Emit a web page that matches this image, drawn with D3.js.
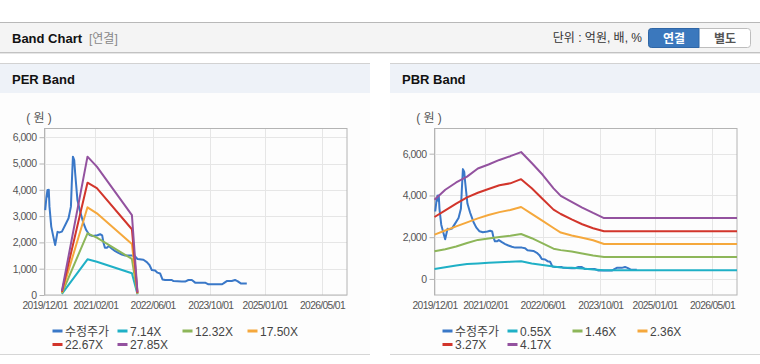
<!DOCTYPE html>
<html>
<head>
<meta charset="utf-8">
<script src="https://cdn.jsdelivr.net/npm/d3@7"></script>
<style>
  body { margin: 0; background: #fff; }
  svg { display: block; font-family: "Liberation Sans", Arial, "Noto Sans CJK KR", sans-serif; }
</style>
</head>
<body>
<svg id="chart" width="760" height="364"></svg>
<script>
// adjusted close (수정주가), shared by both panels
const priceSeries = [
  ["2019-12-07", 3230], ["2019-12-17", 3700], ["2019-12-26", 3990], ["2020-01-01", 3750],
  ["2020-01-06", 4000], ["2020-01-12", 3360], ["2020-01-27", 2600], ["2020-02-12", 2250],
  ["2020-02-29", 1900], ["2020-03-20", 2400], ["2020-04-07", 2380], ["2020-04-26", 2410],
  ["2020-05-24", 2660], ["2020-06-21", 2920], ["2020-07-11", 3360], ["2020-07-18", 4200],
  ["2020-07-28", 5260], ["2020-08-08", 5130], ["2020-08-16", 4630], ["2020-09-04", 3610],
  ["2020-09-27", 3170], ["2020-10-25", 2730], ["2020-11-17", 2470], ["2020-12-15", 2280],
  ["2021-01-12", 2240], ["2021-02-20", 2270], ["2021-03-15", 2310], ["2021-04-01", 2270],
  ["2021-04-12", 1990], ["2021-04-24", 1800], ["2021-05-11", 1800], ["2021-05-27", 1860],
  ["2021-06-22", 1760], ["2021-07-20", 1670], ["2021-08-16", 1600], ["2021-09-14", 1540],
  ["2021-10-12", 1500], ["2021-12-08", 1500], ["2022-01-04", 1470], ["2022-01-24", 1370],
  ["2022-03-15", 1340], ["2022-04-13", 1250], ["2022-05-05", 1140], ["2022-05-25", 950],
  ["2022-06-22", 930], ["2022-07-12", 850], ["2022-08-03", 820], ["2022-08-23", 590],
  ["2022-09-15", 570], ["2022-11-10", 570], ["2022-11-24", 530], ["2023-02-02", 510],
  ["2023-03-02", 510], ["2023-03-30", 570], ["2023-04-28", 570], ["2023-05-26", 470],
  ["2023-08-18", 470], ["2023-09-15", 405], ["2024-01-06", 405], ["2024-01-20", 440],
  ["2024-02-17", 530], ["2024-03-30", 530], ["2024-04-27", 570], ["2024-05-17", 530],
  ["2024-06-14", 440], ["2024-08-04", 440]
];

// PER band
const perDates = ["2020-04-26", "2020-11-28", "2021-02-15", "2021-12-08", "2022-01-24"];
const per714 = [40, 1357, 1266, 825, 25];
const per1232 = [65, 2345, 2180, 1370, 45];
const per1750 = [95, 3335, 3105, 1940, 60];
const per2267 = [120, 4270, 4060, 2500, 80];
const per2785 = [150, 5260, 4880, 3040, 100];
const perLegend = ["수정주가", "7.14X", "12.32X", "17.50X", "22.67X", "27.85X"];
const perTicksY = [0, 1000, 2000, 3000, 4000, 5000, 6000];

// PBR band
const pbrDates = ["2019-12-01", "2020-03-01", "2020-06-01", "2020-09-01", "2020-12-01", "2021-03-01",
  "2021-06-01", "2021-09-01", "2021-12-01", "2022-03-01", "2022-06-01", "2022-09-01",
  "2022-11-01", "2023-02-01", "2023-05-01", "2023-08-01", "2023-11-01", "2026-11-28"];
const pbr055 = [478, 560, 640, 710, 740, 770, 795, 820, 846, 740, 665, 590, 550, 530, 500, 450, 415, 415];
const pbr146 = [1321, 1420, 1550, 1720, 1870, 1940, 2010, 2070, 2150, 1950, 1700, 1450, 1380, 1310, 1220, 1120, 1050, 1050];
const pbr236 = [2120, 2320, 2520, 2710, 2900, 3060, 3200, 3300, 3445, 3120, 2780, 2440, 2220, 2080, 1970, 1850, 1670, 1670];
const pbr327 = [2967, 3280, 3610, 3910, 4130, 4310, 4490, 4580, 4780, 4340, 3830, 3320, 3110, 2850, 2620, 2430, 2280, 2280];
const pbr417 = [3795, 4270, 4620, 4900, 5290, 5480, 5700, 5880, 6077, 5550, 4990, 4340, 3980, 3690, 3420, 3160, 2915, 2915];
const pbrLegend = ["수정주가", "0.55X", "1.46X", "2.36X", "3.27X", "4.17X"];
const pbrTicksY = [0, 2000, 4000, 6000];

const xTickLabels = ["2019/12/01", "2021/02/01", "2022/06/01", "2023/10/01", "2025/01/01", "2026/05/01"];
const xDomain = ["2019-12-01", "2026-11-28"];
const colors = ["#3a78c8", "#1fb0c6", "#8db659", "#f5a83c", "#d2352b", "#93529f"];

const svg = d3.select("#chart");
const parse = d3.timeParse("%Y-%m-%d");
const parseTick = d3.timeParse("%Y/%m/%d");

// top header bar
svg.append("rect").attr("x", 0).attr("y", 22).attr("width", 760).attr("height", 1).attr("fill", "#b8b8b8");
svg.append("rect").attr("x", 0).attr("y", 23).attr("width", 760).attr("height", 29).attr("fill", "#f4f4f4");
svg.append("rect").attr("x", 0).attr("y", 52).attr("width", 760).attr("height", 1).attr("fill", "#c2c2c2");
svg.append("rect").attr("x", 0).attr("y", 53).attr("width", 760).attr("height", 1).attr("fill", "#e6e6e6");
svg.append("text").attr("x", 12).attr("y", 43).attr("font-size", 13).attr("font-weight", "bold")
  .attr("fill", "#111").text("Band Chart");
svg.append("text").attr("x", 89).attr("y", 43).attr("font-size", 12).attr("fill", "#888").text("[연결]");
svg.append("text").attr("x", 642).attr("y", 42).attr("font-size", 12).attr("fill", "#333")
  .attr("text-anchor", "end").text("단위 : 억원, 배, %");

const btn = svg.append("g");
btn.append("rect").attr("x", 648.5).attr("y", 28.5).attr("width", 102).attr("height", 19).attr("rx", 3)
  .attr("fill", "#fff").attr("stroke", "#bdbdbd");
btn.append("path").attr("d", "M699,28.5 H651.5 A3,3 0 0 0 648.5,31.5 V44.5 A3,3 0 0 0 651.5,47.5 H699 Z")
  .attr("fill", "#3b78bd").attr("stroke", "#2f66a6");
btn.append("text").attr("x", 674).attr("y", 42.5).attr("text-anchor", "middle").attr("font-size", 12)
  .attr("font-weight", "bold").attr("fill", "#fff").text("연결");
btn.append("text").attr("x", 725).attr("y", 42.5).attr("text-anchor", "middle").attr("font-size", 12)
  .attr("font-weight", "bold").attr("fill", "#555").text("별도");

function drawPanel(ox, title, yDomain, yTicks, bandDates, bands, legend) {
  const g = svg.append("g").attr("transform", `translate(${ox},0)`);

  g.append("rect").attr("x", 0).attr("y", 63).attr("width", 370).attr("height", 1).attr("fill", "#d2d2d2");
  g.append("rect").attr("x", 0).attr("y", 64).attr("width", 370).attr("height", 29).attr("fill", "#eef2f8");
  g.append("rect").attr("x", 0).attr("y", 93).attr("width", 370).attr("height", 261).attr("fill", "#fdfdfd");
  g.append("rect").attr("x", 0).attr("y", 354).attr("width", 370).attr("height", 1).attr("fill", "#d6d6d6");
  g.append("text").attr("x", 12).attr("y", 84).attr("font-size", 13).attr("font-weight", "bold")
    .attr("fill", "#111").text(title);

  const x = d3.scaleTime().domain(xDomain.map(parse)).range([44.5, 347]);
  const y = d3.scaleLinear().domain(yDomain).range([295, 128]);
  const tickDates = xTickLabels.map(parseTick);

  // grid
  g.append("g").selectAll("line").data(yTicks).join("line")
    .attr("x1", 44.5).attr("x2", 347).attr("y1", d => Math.round(y(d)) + 0.5).attr("y2", d => Math.round(y(d)) + 0.5)
    .attr("stroke", "#e6e6e6");
  g.append("g").selectAll("line").data(tickDates).join("line")
    .attr("x1", d => Math.round(x(d)) + 0.5).attr("x2", d => Math.round(x(d)) + 0.5)
    .attr("y1", 128).attr("y2", 295).attr("stroke", "#e6e6e6");

  // frame
  g.append("rect").attr("x", 44.5).attr("y", 128.5).attr("width", 302.5).attr("height", 166.5)
    .attr("fill", "none").attr("stroke", "#b4b4b4");

  // axes
  const yAxis = g.append("g").attr("transform", "translate(44.5,0)")
    .call(d3.axisLeft(y).tickValues(yTicks).tickSize(5).tickPadding(3).tickFormat(d3.format(",")));
  yAxis.select(".domain").remove();
  yAxis.selectAll("line").attr("stroke", "#b4b4b4");
  yAxis.selectAll("text").attr("font-size", 10.5).attr("letter-spacing", "-0.5px")
    .attr("fill", "#555").attr("font-family", null);

  const xAxis = g.append("g").attr("transform", "translate(0,295)")
    .call(d3.axisBottom(x).tickValues(tickDates).tickSize(0).tickPadding(7)
      .tickFormat((d, i) => xTickLabels[i]));
  xAxis.select(".domain").remove();
  xAxis.selectAll("text").attr("font-size", 10.3).attr("letter-spacing", "-0.65px")
    .attr("fill", "#555").attr("font-family", null);

  g.append("text").attr("x", 39).attr("y", 122).attr("text-anchor", "middle").attr("font-size", 12)
    .attr("fill", "#555").text("( 원 )");

  // series
  const line = d3.line().x(d => x(d[0])).y(d => y(d[1]));
  const plot = g.append("g");
  plot.append("path").datum(priceSeries.map(d => [parse(d[0]), d[1]]))
    .attr("d", line).attr("fill", "none").attr("stroke", colors[0]).attr("stroke-width", 2)
    .attr("stroke-linejoin", "round");
  bands.forEach((vals, i) => {
    plot.append("path").datum(bandDates.map((d, j) => [parse(d), vals[j]]))
      .attr("d", line).attr("fill", "none").attr("stroke", colors[i + 1]).attr("stroke-width", 2)
      .attr("stroke-linejoin", "round");
  });

  // legend
  const lg = g.append("g").selectAll("g").data(legend).join("g")
    .attr("transform", (d, i) => `translate(${52.5 + (i % 4) * 65},${331 + Math.floor(i / 4) * 13.5})`);
  lg.append("rect").attr("x", 0).attr("y", -1.5).attr("width", 10).attr("height", 3)
    .attr("fill", (d, i) => colors[i]);
  lg.append("text").attr("x", 12.5).attr("y", 4.5).attr("font-size", 12).attr("fill", "#444")
    .text(d => d);
}

drawPanel(0, "PER Band", [0, 6350], perTicksY, perDates, [per714, per1232, per1750, per2267, per2785], perLegend);
drawPanel(390, "PBR Band", [-770, 7230], pbrTicksY, pbrDates, [pbr055, pbr146, pbr236, pbr327, pbr417], pbrLegend);
</script>
</body>
</html>
